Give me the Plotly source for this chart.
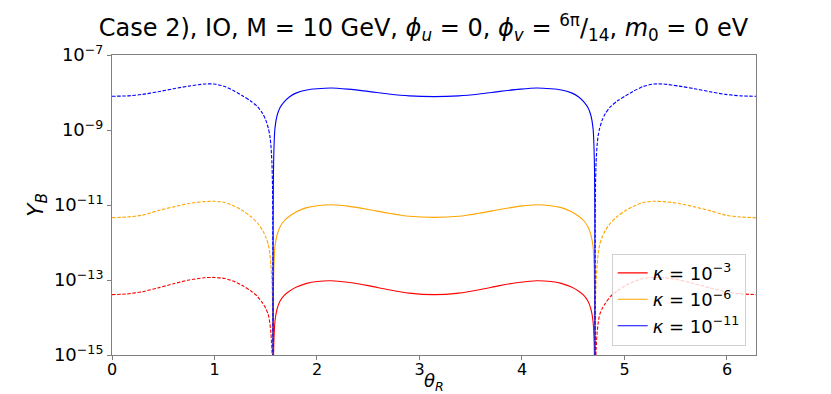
import plotly.graph_objects as go

# theta_R sample points for the three pieces of each curve
theta_left = [0.0, 0.15, 0.3, 0.45, 0.6, 0.75, 0.9, 1.0, 1.1, 1.2, 1.28, 1.35, 1.42, 1.47, 1.5,
              1.525, 1.54, 1.55, 1.56, 1.566, 1.569, 1.5708]
theta_mid = [1.5708, 1.572, 1.575, 1.58, 1.59, 1.61, 1.64, 1.68, 1.73, 1.8, 1.9, 2.0, 2.14, 2.3, 2.5,
             2.7, 2.9, 3.1416, 3.3832, 3.5832, 3.7832, 3.9832, 4.1432, 4.2832, 4.3832, 4.4832,
             4.5532, 4.6032, 4.6432, 4.6732, 4.6932, 4.7032, 4.7082, 4.7112, 4.7124]
theta_right = [4.7124, 4.7142, 4.7172, 4.7232, 4.7332, 4.7432, 4.7582, 4.7832, 4.8132, 4.8632,
               4.9332, 5.0032, 5.0832, 5.1832, 5.2832, 5.3832, 5.5332, 5.6832, 5.8332, 5.9832,
               6.1332, 6.2832]

# |Y_B| for kappa = 1e-3
red_left = [4.07e-14, 4.27e-14, 4.90e-14, 6.17e-14, 7.94e-14, 1.0e-13, 1.15e-13, 1.17e-13, 1.10e-13,
            8.91e-14, 6.92e-14, 5.25e-14, 3.63e-14, 2.40e-14, 1.74e-14, 1.20e-14, 7.08e-15, 3.98e-15,
            1.41e-15, 3.98e-16, 3.98e-17, 1e-18]
red_mid = [1e-18, 2.51e-17, 5.01e-16, 2.51e-15, 7.94e-15, 1.66e-14, 2.75e-14, 3.89e-14, 5.01e-14,
           6.46e-14, 8.13e-14, 9.12e-14, 9.55e-14, 8.71e-14, 7.08e-14, 5.50e-14, 4.47e-14, 4.07e-14,
           4.47e-14, 5.50e-14, 7.08e-14, 8.71e-14, 9.55e-14, 9.12e-14, 8.13e-14, 6.46e-14, 5.01e-14,
           3.89e-14, 2.75e-14, 1.66e-14, 7.94e-15, 2.51e-15, 5.01e-16, 2.51e-17, 1e-18]
red_right = [1e-18, 3.98e-17, 3.98e-16, 1.41e-15, 3.98e-15, 7.08e-15, 1.20e-14, 1.74e-14, 2.40e-14,
             3.63e-14, 5.25e-14, 6.92e-14, 8.91e-14, 1.10e-13, 1.17e-13, 1.15e-13, 1.0e-13, 7.94e-14,
             6.17e-14, 4.90e-14, 4.27e-14, 4.07e-14]

# |Y_B| for kappa = 1e-6
orange_left = [4.57e-12, 4.79e-12, 5.37e-12, 7.08e-12, 8.91e-12, 1.10e-11, 1.23e-11, 1.26e-11, 1.17e-11,
               9.12e-12, 6.92e-12, 5.01e-12, 3.31e-12, 2.09e-12, 1.41e-12, 8.91e-13, 5.01e-13, 2.51e-13,
               1.0e-13, 2.51e-14, 2.51e-15, 1e-18]
orange_mid = [1e-18, 2.51e-15, 5.01e-14, 2.51e-13, 7.94e-13, 1.58e-12, 2.63e-12, 3.80e-12, 5.01e-12,
              6.61e-12, 8.51e-12, 9.55e-12, 1.02e-11, 9.33e-12, 7.59e-12, 6.03e-12, 5.01e-12, 4.68e-12,
              5.01e-12, 6.03e-12, 7.59e-12, 9.33e-12, 1.02e-11, 9.55e-12, 8.51e-12, 6.61e-12, 5.01e-12,
              3.80e-12, 2.63e-12, 1.58e-12, 7.94e-13, 2.51e-13, 5.01e-14, 2.51e-15, 1e-18]
orange_right = [1e-18, 2.51e-15, 2.51e-14, 1.0e-13, 2.51e-13, 5.01e-13, 8.91e-13, 1.41e-12, 2.09e-12,
                3.31e-12, 5.01e-12, 6.92e-12, 9.12e-12, 1.17e-11, 1.26e-11, 1.23e-11, 1.10e-11, 8.91e-12,
                7.08e-12, 5.37e-12, 4.79e-12, 4.57e-12]

# |Y_B| for kappa = 1e-11
blue_left = [7.94e-9, 8.13e-9, 8.91e-9, 1.05e-8, 1.26e-8, 1.48e-8, 1.68e-8, 1.68e-8, 1.45e-8, 1.07e-8,
             7.94e-9, 6.03e-9, 4.17e-9, 2.75e-9, 1.86e-9, 1.12e-9, 7.08e-10, 3.98e-10, 1.41e-10,
             3.16e-11, 3.16e-12, 1e-18]
blue_mid = [1e-18, 3.16e-12, 6.31e-11, 3.16e-10, 1.12e-9, 2.40e-9, 3.98e-9, 5.62e-9, 7.59e-9, 9.77e-9,
            1.17e-8, 1.26e-8, 1.32e-8, 1.23e-8, 1.07e-8, 9.12e-9, 8.13e-9, 7.76e-9,
            8.13e-9, 9.12e-9, 1.07e-8, 1.23e-8, 1.32e-8, 1.26e-8, 1.17e-8, 9.77e-9, 7.59e-9, 5.62e-9,
            3.98e-9, 2.40e-9, 1.12e-9, 3.16e-10, 6.31e-11, 3.16e-12, 1e-18]
blue_right = [1e-18, 3.16e-12, 3.16e-11, 1.41e-10, 3.98e-10, 7.08e-10, 1.12e-9, 1.86e-9, 2.75e-9,
              4.17e-9, 6.03e-9, 7.94e-9, 1.07e-8, 1.45e-8, 1.68e-8, 1.68e-8, 1.48e-8, 1.26e-8,
              1.05e-8, 8.91e-9, 8.13e-9, 7.94e-9]

curves = [
    ("<i>κ</i> = 10<sup>−3</sup>", "red", red_left, red_mid, red_right),
    ("<i>κ</i> = 10<sup>−6</sup>", "orange", orange_left, orange_mid, orange_right),
    ("<i>κ</i> = 10<sup>−11</sup>", "blue", blue_left, blue_mid, blue_right),
]

y_tick_vals = [1e-15, 1e-13, 1e-11, 1e-9, 1e-7]
y_tick_text = ["10<sup>−15</sup>", "10<sup>−13</sup>", "10<sup>−11</sup>", "10<sup>−9</sup>", "10<sup>−7</sup>"]
x_tick_vals = [0, 1, 2, 3, 4, 5, 6]

fig = go.Figure()
for label, color, y_left, y_mid, y_right in curves:
    fig.add_trace(go.Scatter(x=theta_left, y=y_left, mode="lines", showlegend=False,
                             line=dict(color=color, width=1.1, dash="3.5px,1.6px", shape="spline",
                                       smoothing=0.6)))
    fig.add_trace(go.Scatter(x=theta_mid, y=y_mid, mode="lines", name=label,
                             line=dict(color=color, width=1.1, shape="spline", smoothing=0.6)))
    fig.add_trace(go.Scatter(x=theta_right, y=y_right, mode="lines", showlegend=False,
                             line=dict(color=color, width=1.1, dash="3.5px,1.6px", shape="spline",
                                       smoothing=0.6)))

axis_style = dict(showline=True, linecolor="#808080", linewidth=1, mirror=True, showgrid=False,
                  zeroline=False, ticks="outside", ticklen=4, tickcolor="#808080")

fig.update_layout(
    width=831,
    height=394,
    margin=dict(l=104, r=83, t=47, b=47),
    paper_bgcolor="white",
    plot_bgcolor="white",
    font=dict(family="DejaVu Sans", color="black"),
    title=dict(
        text="Case 2), IO, M = 10 GeV, <i>ϕ<sub>u</sub></i> = 0, <i>ϕ<sub>v</sub></i> = "
             "<sup>6π</sup>/<sub>14</sub>, <i>m</i><sub>0</sub> = 0 eV",
        x=0.5, xanchor="center", y=0.95, yanchor="middle",
        font=dict(size=24),
    ),
    xaxis=dict(range=[0, 6.2832], tickvals=x_tick_vals, tickfont=dict(size=16),
               ticklabelstandoff=-4, **axis_style),
    yaxis=dict(type="log", range=[-15, -7], tickvals=y_tick_vals, ticktext=y_tick_text,
               tickfont=dict(size=18),
               title=dict(text="<i>Y<sub>B</sub></i>", font=dict(size=22), standoff=4), **axis_style),
    annotations=[dict(text="<i>θ<sub>R</sub></i>", x=0.5, y=-0.09, xref="paper", yref="paper",
                      xanchor="center", yanchor="middle", showarrow=False, font=dict(size=18))],
    legend=dict(x=0.984, y=0.031, xanchor="right", yanchor="bottom",
                bgcolor="rgba(255,255,255,0.8)", bordercolor="#d0d0d0", borderwidth=1,
                font=dict(size=18), tracegroupgap=0),
)

fig.write_html("out.html")
